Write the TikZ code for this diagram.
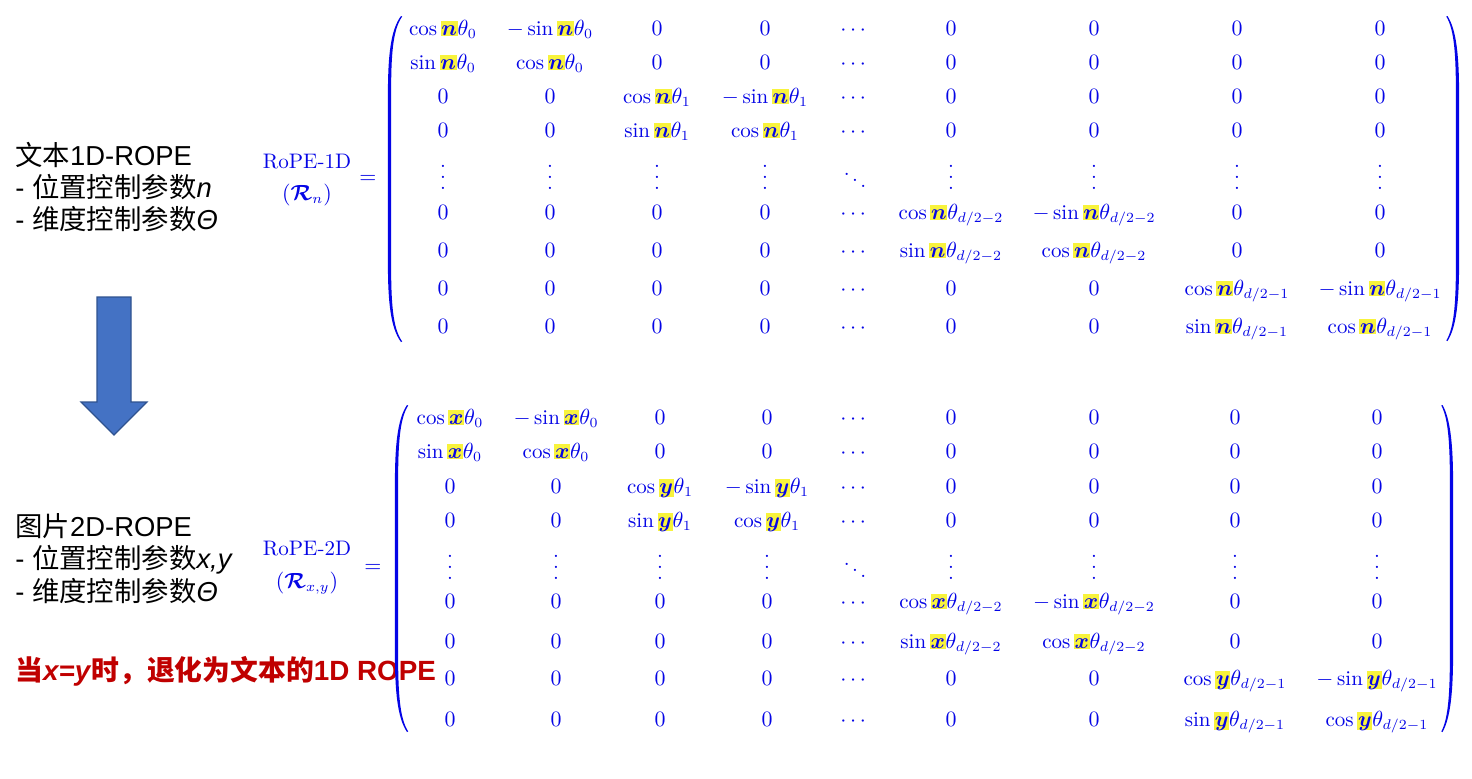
\documentclass[tikz,border=0pt]{standalone}
\usepackage{amsmath}
\usepackage{fontspec}
\usepackage{bm}
\newfontfamily\cjk{Noto Sans CJK SC}
\newfontfamily\hv{Liberation Sans}
\definecolor{mblue}{RGB}{5,5,230}
\definecolor{hly}{RGB}{248,243,60}
\definecolor{dred}{RGB}{192,0,0}
\definecolor{arrfill}{RGB}{68,114,196}
\definecolor{arredge}{RGB}{47,82,143}
\newcommand\hlv[1]{{\setlength\fboxsep{0pt}\colorbox{hly}{\kern0.3pt$\vphantom{0}\vrule depth0.6pt width0pt\bm{#1}$\kern0.3pt}}}
\newcommand\vd{\vbox{\baselineskip5.5pt\lineskiplimit0pt\hbox{.}\hbox{.}\hbox{.}}}
\def\colsA{{443,550,657,765,855,951,1094,1237,1380}}
\def\colsB{{450,556,660,767,855,951,1094,1235,1377}}
\newcommand\mrow[5]{%
  \foreach \e [count=\c] in {#5}{%
    \pgfmathsetmacro\xx{#1[\c-1]}%
    \node[ent] (#2-#3-\c) at (\xx,#4) {$\e$};}}
\newcommand\paren[5]{% end x, straight x, top y, bottom y, sign
  \fill[mblue] (#1,#3) .. controls ({#2+(#5)*1},{#3+14}) and ({#2-(#5)*1.6},{#3+40}) .. ({#2-(#5)*1.6},{#3+80})
    -- ({#2-(#5)*1.6},{#4-80}) .. controls ({#2-(#5)*1.6},{#4-40}) and ({#2+(#5)*1},{#4-14}) .. (#1,#4)
    -- ({#1+(#5)*1.2},{#4-0.5}) .. controls ({#2+(#5)*3},{#4-14}) and ({#2+(#5)*1.6},{#4-40}) .. ({#2+(#5)*1.6},{#4-80})
    -- ({#2+(#5)*1.6},{#3+80}) .. controls ({#2+(#5)*1.6},{#3+40}) and ({#2+(#5)*3},{#3+14}) .. ({#1+(#5)*1.2},{#3+0.5}) -- cycle;}
\begin{document}
\begin{tikzpicture}[x=0.5pt,y=-0.5pt,
  ent/.style={text=mblue,inner sep=0pt,anchor=base,font=\fontsize{10.5}{12.6}\selectfont},
  lab/.style={text=mblue,inner sep=0pt,anchor=base,font=\fontsize{10.5}{12.6}\selectfont},
  txt/.style={inner sep=0pt,anchor=base west,font=\fontsize{13.7}{16}\selectfont\hv},
  redtxt/.style={inner sep=0pt,anchor=base west,text=dred,font=\fontsize{13.9}{16}\selectfont\hv\bfseries}]
\useasboundingbox[fill=white] (0,0) rectangle (1472,778);
% left texts
\node[txt] (t1) at (15,165) {{\cjk 文本}1D-ROPE};
\node[txt] (t2) at (15,197) {- {\cjk 位置控制参数}\textit{n}};
\node[txt] (t3) at (15,229) {- {\cjk 维度控制参数}\textit{Θ}};
\node[txt] (b1) at (15,536) {{\cjk 图片}2D-ROPE};
\node[txt] (b2) at (15,568) {- {\cjk 位置控制参数}\textit{x,y}};
\node[txt] (b3) at (15,601) {- {\cjk 维度控制参数}\textit{Θ}};
\node[redtxt] (r1) at (15,680) {{\cjk 当}\textit{x=y}{\cjk 时，退化为文本的}1D ROPE};
% block arrow
\filldraw[fill=arrfill, draw=arredge, line width=0.6pt] (97,297) -- (131,297) -- (131,402) -- (147,402) -- (114,435) -- (81,402) -- (97,402) -- cycle;
% labels
\node[lab] (L1) at (307,168) {RoPE-1D};
\node[lab] (L1b) at (307,200) {$(\bm{\mathcal{R}}_n)$};
\node[lab,anchor=center] (eq1) at (368,179) {$=$};
\node[lab] (L2) at (307,555) {RoPE-2D};
\node[lab] (L2b) at (307,588) {$(\bm{\mathcal{R}}_{x,y})$};
\node[lab,anchor=center] (eq2) at (373,568) {$=$};
% parentheses
\paren{401}{389.5}{16}{342}{1}
\paren{1447.5}{1457.5}{16}{341}{-1}
\paren{407}{396.5}{405}{732}{1}
\paren{1442.5}{1451.5}{405}{732}{-1}
% top matrix
\mrow{\colsA}{A}{1}{35}{{\cos\hlv{n}\theta_0},{-\sin\hlv{n}\theta_0},0,0,\cdots,0,0,0,0}
\mrow{\colsA}{A}{2}{69}{{\sin\hlv{n}\theta_0},{\cos\hlv{n}\theta_0},0,0,\cdots,0,0,0,0}
\mrow{\colsA}{A}{3}{103}{0,0,{\cos\hlv{n}\theta_1},{-\sin\hlv{n}\theta_1},\cdots,0,0,0,0}
\mrow{\colsA}{A}{4}{137}{0,0,{\sin\hlv{n}\theta_1},{\cos\hlv{n}\theta_1},\cdots,0,0,0,0}
\mrow{\colsA}{A}{5}{189}{\vd,\vd,\vd,\vd,\ddots,\vd,\vd,\vd,\vd}
\mrow{\colsA}{A}{6}{219}{0,0,0,0,\cdots,{\cos\hlv{n}\theta_{d/2-2}},{-\sin\hlv{n}\theta_{d/2-2}},0,0}
\mrow{\colsA}{A}{7}{257}{0,0,0,0,\cdots,{\sin\hlv{n}\theta_{d/2-2}},{\cos\hlv{n}\theta_{d/2-2}},0,0}
\mrow{\colsA}{A}{8}{295}{0,0,0,0,\cdots,0,0,{\cos\hlv{n}\theta_{d/2-1}},{-\sin\hlv{n}\theta_{d/2-1}}}
\mrow{\colsA}{A}{9}{333}{0,0,0,0,\cdots,0,0,{\sin\hlv{n}\theta_{d/2-1}},{\cos\hlv{n}\theta_{d/2-1}}}
% bottom matrix
\mrow{\colsB}{B}{1}{424}{{\cos\hlv{x}\theta_0},{-\sin\hlv{x}\theta_0},0,0,\cdots,0,0,0,0}
\mrow{\colsB}{B}{2}{458}{{\sin\hlv{x}\theta_0},{\cos\hlv{x}\theta_0},0,0,\cdots,0,0,0,0}
\mrow{\colsB}{B}{3}{493}{0,0,{\cos\hlv{y}\theta_1},{-\sin\hlv{y}\theta_1},\cdots,0,0,0,0}
\mrow{\colsB}{B}{4}{527}{0,0,{\sin\hlv{y}\theta_1},{\cos\hlv{y}\theta_1},\cdots,0,0,0,0}
\mrow{\colsB}{B}{5}{579}{\vd,\vd,\vd,\vd,\ddots,\vd,\vd,\vd,\vd}
\mrow{\colsB}{B}{6}{608}{0,0,0,0,\cdots,{\cos\hlv{x}\theta_{d/2-2}},{-\sin\hlv{x}\theta_{d/2-2}},0,0}
\mrow{\colsB}{B}{7}{648}{0,0,0,0,\cdots,{\sin\hlv{x}\theta_{d/2-2}},{\cos\hlv{x}\theta_{d/2-2}},0,0}
\mrow{\colsB}{B}{8}{685}{0,0,0,0,\cdots,0,0,{\cos\hlv{y}\theta_{d/2-1}},{-\sin\hlv{y}\theta_{d/2-1}}}
\mrow{\colsB}{B}{9}{726}{0,0,0,0,\cdots,0,0,{\sin\hlv{y}\theta_{d/2-1}},{\cos\hlv{y}\theta_{d/2-1}}}
\end{tikzpicture}
\end{document}
